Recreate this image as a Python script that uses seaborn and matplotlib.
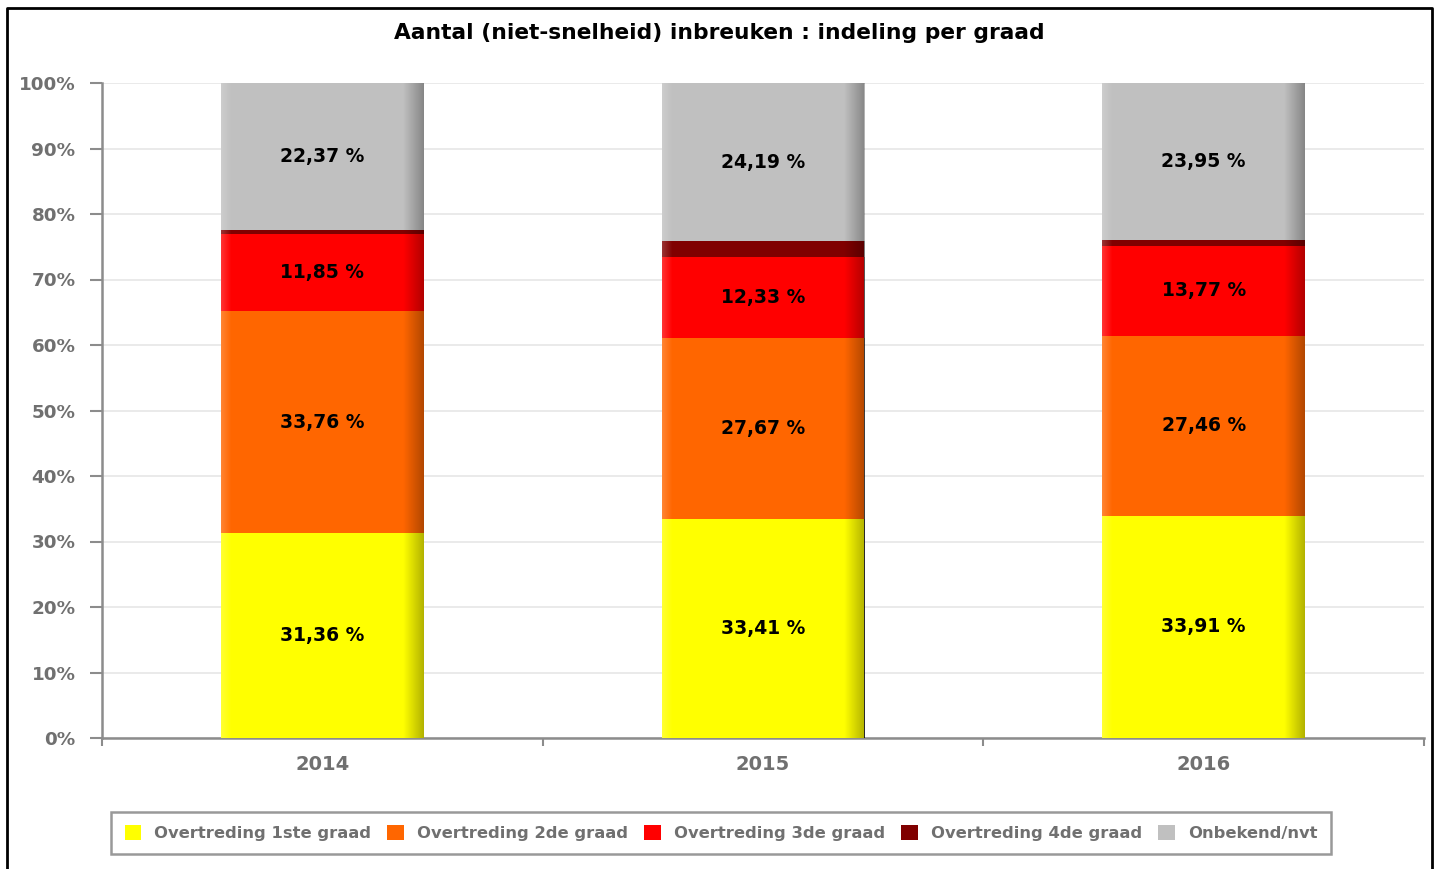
import numpy as np
import pandas as pd
import seaborn as sns
import matplotlib.pyplot as plt
from matplotlib.patches import Patch
from matplotlib.lines import Line2D

# ---------------- Data ----------------
years = ["2014", "2015", "2016"]
categories = ["Overtreding 1ste graad", "Overtreding 2de graad", "Overtreding 3de graad",
              "Overtreding 4de graad", "Onbekend/nvt"]
graad1 = [31.36, 33.41, 33.91]
graad2 = [33.76, 27.67, 27.46]
graad3 = [11.85, 12.33, 13.77]
graad4 = [0.66, 2.40, 0.91]
onbekend = [22.37, 24.19, 23.95]
colors = ["#FFFF00", "#FF6600", "#FF0000", "#800000", "#C0C0C0"]
show_label = [True, True, True, False, True]

series = [graad1, graad2, graad3, graad4, onbekend]

# long table with cumulative heights (stacked bars drawn by overlaying)
rows = []
for cat, vals in zip(categories, series):
    for yr, v in zip(years, vals):
        rows.append({"year": yr, "cat": cat, "value": v})
df = pd.DataFrame(rows)
df["cum"] = df.groupby("year")["value"].cumsum()
df["bottom"] = df["cum"] - df["value"]

sns.set_style("white")
plt.rcParams["font.family"] = ["DejaVu Sans"]

fig = plt.figure(figsize=(14.38, 8.69), dpi=100)
ax = fig.add_axes([102 / 1438, 1 - 738 / 869, 1322 / 1438, 655 / 869])

draw_order = categories[::-1]
sns.barplot(data=df, x="year", y="cum", hue="cat", hue_order=draw_order,
            palette=dict(zip(categories, colors)), dodge=False, saturation=1,
            width=0.46, order=years, ax=ax, legend=False)

# z-order per level so lower segments sit on top, and add a soft edge shading
grad = np.linspace(0, 1, 200)
shade = np.zeros((1, 200, 4))
shade[..., 3] = np.clip((grad - 0.9) / 0.1, 0, 1) * 0.3
light = np.ones((1, 200, 4))
light[..., 3] = np.clip((0.05 - grad) / 0.05, 0, 1) * 0.2
for i, p in enumerate(ax.patches):
    level = i // len(years)
    p.set_zorder(2 + 3 * level)
    p.set_linewidth(0)
    x0, w, h = p.get_x(), p.get_width(), p.get_height()
    for k, img in enumerate([shade, light]):
        im = ax.imshow(img, extent=[x0, x0 + w, 0, h], aspect="auto",
                       zorder=3 + 3 * level + k, interpolation="bilinear")
        im.set_clip_path(p)

# value labels
for cat, show in zip(categories, show_label):
    if not show:
        continue
    sub = df[df["cat"] == cat]
    for j, (_, r) in enumerate(sub.iterrows()):
        txt = f"{r['value']:.2f}".replace(".", ",") + " %"
        ax.text(j, r["bottom"] + r["value"] / 2, txt, ha="center", va="center",
                fontsize=13.5, fontweight="bold", color="black", zorder=50)

# ---------------- Axes styling ----------------
ax.set_xlim(-0.5, 2.5)
ax.set_ylim(0, 100)
ax.set_yticks(range(0, 101, 10))
ax.set_yticklabels([f"{t}%" for t in range(0, 101, 10)])
ax.set_xticks([-0.5, 0.5, 1.5, 2.5], minor=True)
ax.set_xlabel("")
ax.set_ylabel("")
ax.yaxis.grid(True, color="#e6e6e6", lw=1.2)
ax.set_axisbelow(True)
for s in ["top", "right"]:
    ax.spines[s].set_visible(False)
for s in ["left", "bottom"]:
    ax.spines[s].set_color("#8c8c8c")
    ax.spines[s].set_linewidth(1.8)
ax.tick_params(axis="y", left=True, length=9, width=1.5, color="#8c8c8c",
               labelsize=13.2, pad=10)
for lab in ax.get_yticklabels():
    lab.set_fontweight("bold")
    lab.set_color("#707070")
ax.tick_params(axis="x", which="major", bottom=True, length=0, labelsize=14, pad=12)
ax.tick_params(axis="x", which="minor", bottom=True, length=6, width=1.5, color="#8c8c8c")
for lab in ax.get_xticklabels():
    lab.set_fontweight("bold")
    lab.set_color("#707070")

fig.text(0.5, 1 - 33 / 869, "Aantal (niet-snelheid) inbreuken : indeling per graad",
         ha="center", va="center", fontsize=15.7, fontweight="bold", color="black")

# ---------------- Legend ----------------
handles = [Patch(facecolor=c, edgecolor="none") for c in colors]
leg = fig.legend(handles, categories, loc="center", ncol=5,
                 bbox_to_anchor=(721 / 1438, 1 - 833 / 869), frameon=True,
                 fancybox=False, edgecolor="#999999", framealpha=1,
                 handlelength=1.0, handleheight=1.0, handletextpad=0.8,
                 columnspacing=1.0, borderpad=0.8, prop={"size": 11.8, "weight": "bold"})
leg.get_frame().set_linewidth(1.8)
for t in leg.get_texts():
    t.set_color("#707070")

# outer frame (top, left, right)
fx0, fx1, fy = 7 / 1438, 1432 / 1438, 1 - 8 / 869
fig.add_artist(Line2D([fx0, fx0, fx1, fx1], [0, fy, fy, 0], color="black", lw=2,
                      transform=fig.transFigure))

fig.savefig("out.png", dpi=100)
